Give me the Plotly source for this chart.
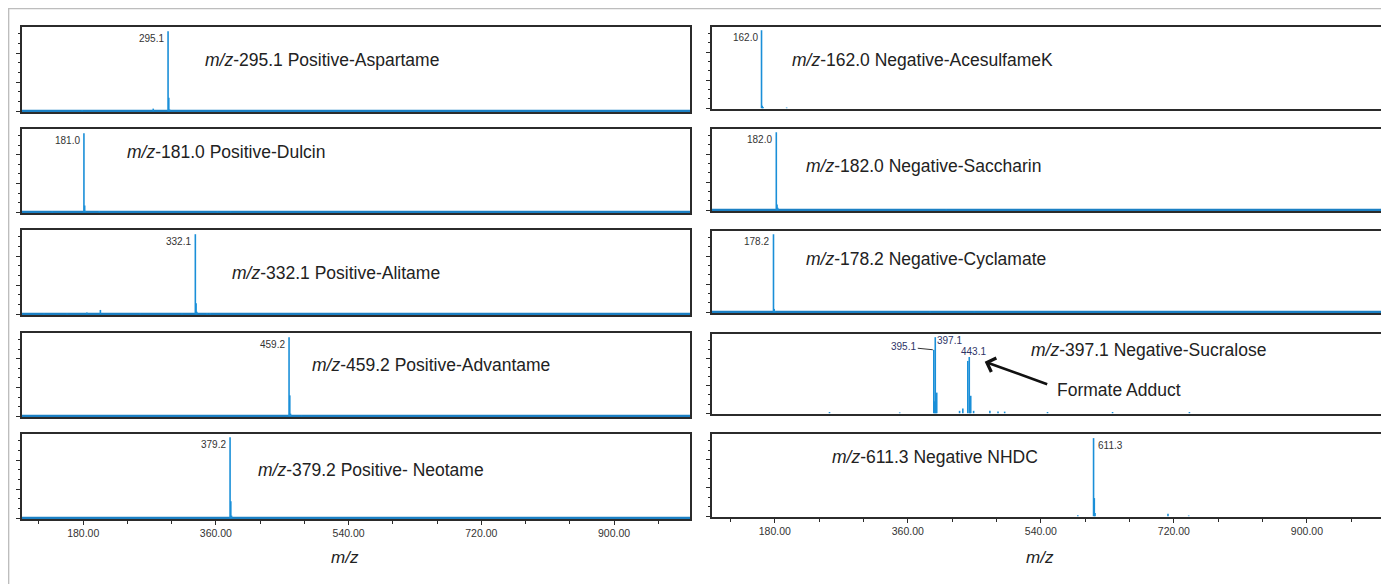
import plotly.graph_objects as go

W, H = 1389, 584
OFF = 8  # page offset of the figure inside the browser window

# ---------------- data ----------------
titles = [
    "<i>m/z</i>-295.1 Positive-Aspartame",
    "<i>m/z</i>-181.0 Positive-Dulcin",
    "<i>m/z</i>-332.1 Positive-Alitame",
    "<i>m/z</i>-459.2 Positive-Advantame",
    "<i>m/z</i>-379.2 Positive- Neotame",
    "<i>m/z</i>-162.0 Negative-AcesulfameK",
    "<i>m/z</i>-182.0 Negative-Saccharin",
    "<i>m/z</i>-178.2 Negative-Cyclamate",
    "<i>m/z</i>-397.1 Negative-Sucralose",
    "<i>m/z</i>-611.3 Negative NHDC",
]

aspartame_mz = [178.6, 275.0, 295.1, 296.1, 297.1]
aspartame_int = [1.5, 3.0, 95, 16, 2.0]
dulcin_mz = [138.0, 181.0, 182.0, 183.0, 201.7, 362.0, 380.0]
dulcin_int = [0.8, 95, 8, 1.5, 1.5, 0.8, 0.8]
alitame_mz = [127, 158, 185, 203.3, 257, 314, 332.1, 333.1, 334.1, 348, 352]
alitame_int = [0.8, 0.8, 2.0, 5.0, 0.8, 0.8, 95, 13, 3, 1.0, 1.0]
advantame_mz = [459.2, 460.2, 461.2, 476]
advantame_int = [95, 25, 3, 0.8]
neotame_mz = [379.2, 380.2, 381.2]
neotame_int = [96, 20, 3]
acesulfame_mz = [162.0, 163.0, 164.0, 196]
acesulfame_int = [96, 3, 1.5, 0.8]
saccharin_mz = [182.0, 183.0, 184.0, 412]
saccharin_int = [96, 7, 3, 0.8]
cyclamate_mz = [178.2, 179.2, 180.2, 390, 450]
cyclamate_int = [96, 4, 1.5, 0.8, 0.8]
sucralose_mz = [254, 349, 395.1, 396.1, 397.1, 398.1, 399.1, 430, 434.4, 441.1,
                443.1, 444.1, 445.1, 449, 471, 482, 491, 549, 637, 741]
sucralose_int = [1.5, 1.0, 80, 15, 96, 10, 26, 3, 6, 66,
                 71, 12, 22, 3, 3, 2, 2, 1.5, 1.5, 1.5]
nhdc_mz = [590, 611.3, 612.3, 613.3, 712, 740]
nhdc_int = [1.0, 95, 22, 4, 3, 0.8]

spectra_mz = [aspartame_mz, dulcin_mz, alitame_mz, advantame_mz, neotame_mz,
              acesulfame_mz, saccharin_mz, cyclamate_mz, sucralose_mz, nhdc_mz]
spectra_int = [aspartame_int, dulcin_int, alitame_int, advantame_int, neotame_int,
               acesulfame_int, saccharin_int, cyclamate_int, sucralose_int, nhdc_int]

# labelled base peaks (panel index, m/z, intensity, text)
peak_labels = [
    (0, 295.1, 95, "295.1"), (1, 181.0, 95, "181.0"), (2, 332.1, 95, "332.1"),
    (3, 459.2, 95, "459.2"), (4, 379.2, 96, "379.2"), (5, 162.0, 96, "162.0"),
    (6, 182.0, 96, "182.0"), (7, 178.2, 96, "178.2"),
]
nhdc_label = (9, 611.3, 95, "611.3")
sucralose_labels = [(395.1, 80, "395.1"), (397.1, 96, "397.1"), (443.1, 71, "443.1")]

# noise floor level (None = not visible)
baseline_level = [0.4, 0.4, 0.4, 0.4, 0.4, None, 0.4, 0.4, None, None]

x_ticks = [180, 360, 540, 720, 900]

# ---------------- layout geometry (page pixels) ----------------
def PX(x):
    return (x - OFF) / W


def PY(y):
    return 1 - (y - OFF) / H


left_x = (22, 690)
right_x = (712, 1386)
left_tb = [(27, 112), (129, 213), (230, 315), (333, 417), (434, 519)]
right_tb = [(27, 109), (129, 211), (231, 313), (334, 414), (434, 517)]
left_range = [97, 1003]
right_range = [95, 1007]

title_pos = [
    (0.271, 0.612), (0.154, 0.726), (0.311, 0.50), (0.431, 0.62), (0.350, 0.575),
    (0.116, 0.595), (0.1365, 0.549), (0.1365, 0.655), (0.470, 0.80), (0.175, 0.723),
]

BLUE = "#1a8fd8"
FRAME = "#2b2b2b"
FONT = "Liberation Sans, Arial, sans-serif"
TSIZE = 17.5

fig = go.Figure()
layout = dict(
    width=W, height=H, margin=dict(l=0, r=0, t=0, b=0),
    paper_bgcolor="white", plot_bgcolor="white", showlegend=False,
    font=dict(family=FONT, color="#333"),
)

annotations = []
for i in range(10):
    col = 0 if i < 5 else 1
    row = i % 5
    xs = left_x if col == 0 else right_x
    tb = (left_tb if col == 0 else right_tb)[row]
    xr = left_range if col == 0 else right_range
    n = "" if i == 0 else str(i + 1)
    bottom = row == 4
    xaxis = dict(
        domain=[PX(xs[0]), PX(xs[1])], range=xr, anchor="y" + n,
        showline=True, linecolor=FRAME, linewidth=1.5, mirror=True,
        showgrid=False, zeroline=False, fixedrange=True,
    )
    if bottom:
        xaxis.update(
            tickmode="array", tickvals=x_ticks,
            ticktext=[f"{v:.2f}" for v in x_ticks],
            ticks="outside", ticklen=4, tickcolor=FRAME, tickwidth=1,
            tickfont=dict(size=10.5, color="#333", family=FONT),
            minor=dict(dtick=60, tick0=0, ticks="outside", ticklen=3,
                       tickcolor=FRAME),
        )
    else:
        xaxis.update(ticks="", showticklabels=False)
    yaxis = dict(
        domain=[PY(tb[1]), PY(tb[0])], range=[-1, 100], anchor="x" + n,
        showline=True, linecolor=FRAME, linewidth=1.5, mirror=True,
        showgrid=False, zeroline=False, showticklabels=False,
        ticks="outside", ticklen=4, tickcolor=FRAME, tickwidth=1,
        tick0=0, dtick=34.5, fixedrange=True,
        minor=dict(dtick=11.5, tick0=0, ticks="outside", ticklen=2,
                   tickcolor=FRAME),
    )
    layout["xaxis" + n] = xaxis
    layout["yaxis" + n] = yaxis

    # baseline
    if baseline_level[i] is not None:
        fig.add_trace(go.Scatter(
            x=xr, y=[baseline_level[i]] * 2, mode="lines",
            line=dict(color="#1b80c4", width=2.2),
            xaxis="x" + n, yaxis="y" + n, hoverinfo="skip"))
    # stick spectrum
    sx, sy = [], []
    for m, v in zip(spectra_mz[i], spectra_int[i]):
        sx += [m, m, None]
        sy += [0, v, None]
    fig.add_trace(go.Scatter(
        x=sx, y=sy, mode="lines", line=dict(color=BLUE, width=1.6),
        xaxis="x" + n, yaxis="y" + n, hoverinfo="skip"))

    # title text
    tx, ty = title_pos[i]
    annotations.append(dict(
        text=titles[i], xref=("x" + n + " domain"), yref=("y" + n + " domain"),
        x=tx, y=ty, xanchor="left", yanchor="middle", showarrow=False,
        font=dict(size=TSIZE, color="#222", family=FONT)))

# base-peak labels
for (i, m, v, t) in peak_labels:
    n = "" if i == 0 else str(i + 1)
    annotations.append(dict(
        text=t, xref="x" + n, yref="y" + n, x=m, y=v, xanchor="right",
        yanchor="top", xshift=-2, showarrow=False,
        font=dict(size=10, color="#333", family=FONT)))
i, m, v, t = nhdc_label
annotations.append(dict(
    text=t, xref="x10", yref="y10", x=m, y=v, xanchor="left", yanchor="top",
    xshift=2, showarrow=False, font=dict(size=10, color="#333", family=FONT)))

NAVY = "#2e3366"
(m1, v1, t1), (m2, v2, t2), (m3, v3, t3) = sucralose_labels
annotations.append(dict(
    text=t1, xref="x9", yref="y9", x=m1, y=v1, showarrow=True, arrowhead=0,
    arrowwidth=1, arrowcolor="#333", ax=-30, ay=-3, standoff=1,
    font=dict(size=10, color=NAVY, family=FONT)))
annotations.append(dict(
    text=t2, xref="x9", yref="y9", x=m2, y=v2, xanchor="left", yanchor="top",
    xshift=0, yshift=4, showarrow=False,
    font=dict(size=10, color=NAVY, family=FONT)))
annotations.append(dict(
    text=t3, xref="x9", yref="y9", x=m3, y=v3, xanchor="center",
    yanchor="bottom", xshift=4, yshift=-2, showarrow=False,
    font=dict(size=10, color=NAVY, family=FONT)))

# formate adduct arrow + text
annotations.append(dict(
    text="", xref="x9", yref="y9", x=464, y=65, showarrow=True,
    arrowhead=4, arrowsize=1.1, arrowwidth=2.6, arrowcolor="#111",
    ax=64, ay=23))
annotations.append(dict(
    text="Formate Adduct", xref="x9 domain", yref="y9 domain",
    x=(1055 - 712) / 674, y=1 - (390 - 334) / 80, xanchor="left",
    yanchor="middle", showarrow=False,
    font=dict(size=TSIZE, color="#222", family=FONT)))

# axis titles
for cx in (345, 1040):
    annotations.append(dict(
        text="<i>m/z</i>", xref="paper", yref="paper", x=PX(cx), y=PY(557),
        xanchor="center", yanchor="middle", showarrow=False,
        font=dict(size=17, color="#222", family=FONT)))

layout["annotations"] = annotations
layout["shapes"] = [dict(
    type="rect", xref="paper", yref="paper", x0=0.6 / W, x1=1.05,
    y0=-0.05, y1=1 - 0.6 / H, line=dict(color="#bdbdbd", width=1.5),
    fillcolor="rgba(0,0,0,0)", layer="below")]

fig.update_layout(**layout)
fig.write_html("out.html")
